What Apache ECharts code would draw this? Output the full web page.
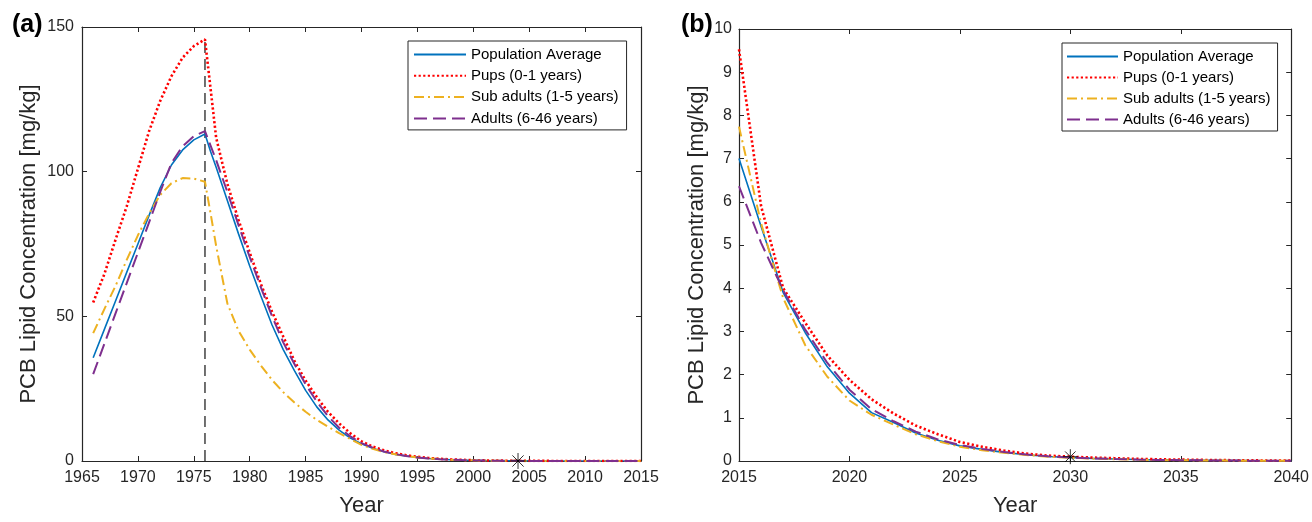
<!DOCTYPE html>
<html>
<head>
<meta charset="utf-8">
<script src="https://cdn.jsdelivr.net/npm/echarts@6/dist/echarts.min.js"></script>
<style>
html,body{margin:0;padding:0;background:#fff;}
#chart{width:1312px;height:522px;}
</style>
</head>
<body>
<div id="chart"></div>
<script>
// ---------- Panel (a) data ----------
const yearsA = [1966,1967,1968,1969,1970,1971,1972,1973,1974,1975,1976,1976.5,1977,1978,1979,1980,1981,1982,1983,1984,1985,1986,1987,1988,1989,1990,1991,1992,1993,1994,1995,1996,1997,1998,1999,2000,2001,2002,2003,2004,2005,2006,2007,2008,2009,2010,2011,2012,2013,2014,2015];
const popA   = [35.7,45.5,55.3,65.2,75.0,84.9,94.5,102.3,107.5,111.0,113.0,107.0,101.5,90.0,78.5,67.4,57.0,47.0,38.5,31.2,24.4,18.7,14.2,10.7,7.9,6.0,4.4,3.2,2.3,1.7,1.2,0.85,0.6,0.43,0.3,0.21,0.15,0.1,0.07,0.05,0.035,0.025,0.018,0.013,0.009,0.006,0.004,0.003,0.002,0.0015,0.001];
const pupsA  = [54.8,64.6,76.5,88.0,101.0,114.0,124.5,133.0,139.4,143.4,145.7,128.7,111.7,95.8,83.3,72.0,61.2,51.6,43.0,34.6,27.8,22.1,17.0,13.0,9.6,6.8,5.0,3.7,2.7,2.0,1.45,1.05,0.75,0.55,0.4,0.28,0.2,0.14,0.1,0.07,0.05,0.035,0.025,0.018,0.013,0.009,0.006,0.004,0.003,0.002,0.0015];
const subA   = [44.2,52.5,60.5,69.5,78.0,85.5,92.0,96.0,97.8,97.6,96.5,85.6,74.3,54.5,45.0,38.5,33.0,28.0,23.8,20.2,17.0,14.2,11.9,9.6,7.6,5.6,4.2,3.1,2.3,1.7,1.25,0.9,0.65,0.45,0.32,0.22,0.15,0.1,0.07,0.05,0.035,0.025,0.018,0.013,0.009,0.006,0.004,0.003,0.002,0.0015,0.001];
const adultA = [30.0,40.5,51.0,61.5,72.0,82.5,93.0,103.0,108.8,112.3,114.0,109.0,104.0,93.0,81.5,70.5,60.0,50.0,41.0,33.5,26.5,20.5,15.5,11.5,8.5,6.2,4.6,3.3,2.4,1.75,1.25,0.9,0.63,0.45,0.32,0.22,0.15,0.1,0.07,0.05,0.035,0.025,0.018,0.013,0.009,0.006,0.004,0.003,0.002,0.0015,0.001];
const cutoffYear = 1976;
const cutoffTop = 145.7;
const obsA = [[2004, 0]];

// ---------- Panel (b) data ----------
const yearsB = [2015,2016,2017,2018,2019,2020,2021,2022,2023,2024,2025,2026,2027,2028,2029,2030,2031,2032,2033,2034,2035,2036,2037,2038,2039,2040];
const popB   = [7.0,5.43,3.9,2.97,2.18,1.57,1.12,0.89,0.65,0.48,0.35,0.27,0.2,0.145,0.105,0.08,0.06,0.045,0.034,0.026,0.02,0.015,0.011,0.008,0.006,0.005];
const pupsB  = [9.53,5.9,4.0,3.2,2.44,1.88,1.43,1.1,0.82,0.62,0.44,0.33,0.24,0.17,0.125,0.1,0.08,0.065,0.05,0.04,0.032,0.025,0.02,0.015,0.012,0.01];
const subB   = [7.74,5.5,3.77,2.68,1.95,1.4,1.07,0.84,0.62,0.46,0.33,0.25,0.19,0.14,0.1,0.075,0.055,0.04,0.03,0.022,0.016,0.012,0.009,0.007,0.005,0.004];
const adultB = [6.36,5.05,3.95,3.04,2.27,1.65,1.2,0.92,0.68,0.5,0.37,0.28,0.21,0.15,0.11,0.082,0.06,0.045,0.034,0.026,0.02,0.015,0.011,0.008,0.006,0.005];
const obsB = [[2030, 0.1]];

const names = ['Population Average','Pups (0-1 years)','Sub adults (1-5 years)','Adults (6-46 years)'];

// ---------- styles ----------
const FONT = 'Liberation Sans, Arial, Helvetica, sans-serif';
const AX = '#262626';
const styles = [
  {color:'#0072BD', width:1.6, type:'solid'},
  {color:'#FF0000', width:2.6, type:[2.2,2.4]},
  {color:'#EDB120', width:2, type:[10,4,2,4]},
  {color:'#7E2F8E', width:2, type:[13,6]}
];
const asterisk = 'path://M0,-10L0,10M-10,0L10,0M-7,-7L7,7M-7,7L7,-7';

function pair(xs, ys){ return xs.map((x,i)=>[x, ys[i]]); }

function mkSeries(xs, arrs, xi, yi){
  return arrs.map((a,k)=>({
    name: names[k], type:'line', xAxisIndex:xi, yAxisIndex:yi,
    data: pair(xs,a), symbol:'none', showSymbol:false, smooth:false, animation:false,
    lineStyle:{color:styles[k].color, width:styles[k].width, type:styles[k].type},
    itemStyle:{color:styles[k].color}, z: 3
  }));
}

function xAx(grid, min, max, top, showLabel){
  return {
    type:'value', gridIndex:grid, min:min, max:max, interval:5,
    position: top ? 'top' : 'bottom',
    axisLine:{show:true, onZero:false, lineStyle:{color:AX, width:1.2}},
    axisTick:{show:true, inside:true, length:5, lineStyle:{color:AX, width:1}},
    axisLabel:{show:showLabel, color:AX, fontSize:16, fontFamily:FONT, margin:9, formatter:(v)=>String(v)},
    splitLine:{show:false},
    name: showLabel ? 'Year' : '', nameLocation:'middle', nameGap:34,
    nameTextStyle:{color:AX, fontSize:22, fontFamily:FONT}
  };
}
function yAx(grid, max, interval, right, showLabel, gap, margin){
  return {
    type:'value', gridIndex:grid, min:0, max:max, interval:interval,
    position: right ? 'right' : 'left',
    axisLine:{show:true, onZero:false, lineStyle:{color:AX, width:1.2}},
    axisTick:{show:true, inside:true, length:5, lineStyle:{color:AX, width:1}},
    axisLabel:{show:showLabel, color:AX, fontSize:16, fontFamily:FONT, margin:margin, formatter:(v)=>String(v)},
    splitLine:{show:false},
    name: showLabel ? 'PCB Lipid Concentration [mg/kg]' : '', nameLocation:'middle', nameGap:gap,
    nameTextStyle:{color:AX, fontSize:22, fontFamily:FONT}
  };
}

const chart = echarts.init(document.getElementById('chart'), null, {renderer:'canvas'});
const series = []
  .concat(mkSeries(yearsA, [popA,pupsA,subA,adultA], 0, 0))
  .concat(mkSeries(yearsB, [popB,pupsB,subB,adultB], 2, 2));

series.push({
  name:'cutoff', type:'line', xAxisIndex:0, yAxisIndex:0, symbol:'none', animation:false,
  data:[[cutoffYear,0],[cutoffYear,cutoffTop]],
  lineStyle:{color:'#111', width:1.2, type:[11,6]}, z:2
});
series.push({
  name:'obsA', type:'scatter', xAxisIndex:0, yAxisIndex:0, data:obsA, symbol:asterisk, symbolSize:16,
  itemStyle:{color:'rgba(0,0,0,0)', borderColor:'#000', borderWidth:1}, z:5, animation:false, clip:false
});
series.push({
  name:'obsB', type:'scatter', xAxisIndex:2, yAxisIndex:2, data:obsB, symbol:asterisk, symbolSize:15,
  itemStyle:{color:'rgba(0,0,0,0)', borderColor:'#000', borderWidth:1}, z:5, animation:false, clip:false
});

const legendCommon = {
  data: names, orient:'vertical', itemWidth:52, itemHeight:14, itemGap:6.3,
  backgroundColor:'#fff', borderColor:'#262626', borderWidth:1, borderRadius:0,
  itemStyle:{opacity:0, color:'rgba(0,0,0,0)', borderWidth:0},
  lineStyle:{opacity:1},
  textStyle:{color:'#000', fontSize:15, fontFamily:FONT, lineHeight:14}, selectedMode:false
};

chart.setOption({
  backgroundColor:'#fff',
  animation:false,
  title:[
    {text:'(a)', left:7, top:8, textStyle:{fontSize:25, fontWeight:'bold', color:'#000', fontFamily:FONT}},
    {text:'(b)', left:676, top:8, textStyle:{fontSize:25, fontWeight:'bold', color:'#000', fontFamily:FONT}}
  ],
  grid:[
    {left:82, top:27, width:559, height:441, containLabel:false},
    {left:739, top:29, width:554, height:438, containLabel:false}
  ],
  xAxis:[ xAx(0,1965,2015,false,true), xAx(0,1965,2015,true,false),
          xAx(1,2015,2040,false,true), xAx(1,2015,2040,true,false) ],
  yAxis:[ yAx(0,150,50,false,true,42,8), yAx(0,150,50,true,false,0,8),
          yAx(1,10,1,false,true,31,7), yAx(1,10,1,true,false,0,7) ],
  legend:[
    Object.assign({}, legendCommon, {left:408, top:41, padding:[6,8,4,5]}),
    Object.assign({}, legendCommon, {left:1062, top:43, padding:[6,7,4,4], itemWidth:51, itemGap:6})
  ],
  series: series
});
</script>
</body>
</html>
